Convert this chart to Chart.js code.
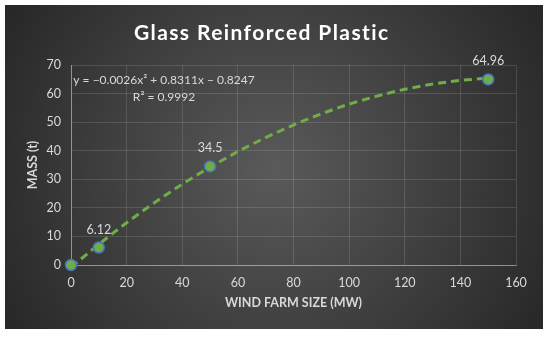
<!DOCTYPE html>
<html><head><meta charset="utf-8">
<script src="https://cdn.jsdelivr.net/npm/chart.js@4/dist/chart.umd.min.js"></script>
<style>html,body{margin:0;padding:0;background:#fff;overflow:hidden}</style>
</head><body>
<canvas id="c" width="550" height="337"></canvas>
<script>
const chartTitle = "Glass Reinforced Plastic";
const xAxisTitle = "WIND FARM SIZE (MW)";
const yAxisTitle = "MASS (t)";
const windFarmSize = [0, 10, 50, 150];
const mass = [0, 6.12, 34.5, 64.96];
const pointLabels = ["", "6.12", "34.5", "64.96"];
const trendX = [0, 10, 20, 30, 40, 50, 60, 70, 80, 90, 100, 110, 120, 130, 140, 150];
const trendY = [-0.8, 7.2, 14.8, 21.8, 28.3, 34.2, 39.7, 44.6, 49.0, 52.9, 56.3, 59.1, 61.5, 63.3, 64.6, 65.4];
const equationLines = ["y = \u22120.0026x\u00b2 + 0.8311x \u2212 0.8247", "R\u00b2 = 0.9992"];
const xRange = [0, 160, 20];
const yRange = [0, 70, 10];

const FONT = "Lato";
const TXT = "#d9d9d9";

const bgPlugin = {
  id: "bg",
  beforeDraw(chart) {
    const ctx = chart.ctx;
    ctx.save();
    ctx.fillStyle = "#ffffff";
    ctx.fillRect(0, 0, 550, 337);
    const g = ctx.createRadialGradient(275, 170, 0, 275, 170, 320);
    g.addColorStop(0, "#5a5a5a");
    g.addColorStop(1, "#262626");
    ctx.fillStyle = g;
    ctx.fillRect(5, 5, 538, 324);
    ctx.restore();
  }
};

const textPlugin = {
  id: "texts",
  afterDraw(chart) {
    const ctx = chart.ctx;
    ctx.save();
    ctx.fillStyle = "#ffffff";
    ctx.font = "bold 21px " + FONT;
    ctx.letterSpacing = "1.4px";
    ctx.textAlign = "center";
    ctx.textBaseline = "alphabetic";
    ctx.fillText(chartTitle, 261.7, 40);
    ctx.letterSpacing = "0px";
    const meta = chart.getDatasetMeta(0);
    ctx.fillStyle = TXT;
    ctx.font = "12.5px " + FONT;
    ctx.textBaseline = "middle";
    meta.data.forEach((el, i) => {
      if (pointLabels[i]) ctx.fillText(pointLabels[i], el.x, el.y - 18);
    });
    ctx.font = "12px " + FONT;
    ctx.fillText(equationLines[0], 164, 80);
    ctx.fillText(equationLines[1], 164, 97);
    ctx.restore();
  }
};

new Chart(document.getElementById("c"), {
  type: "scatter",
  data: {
    datasets: [
      {
        label: "Mass",
        data: windFarmSize.map((x, i) => ({x, y: mass[i]})),
        showLine: false,
        pointRadius: 5.5,
        pointHoverRadius: 5.5,
        pointBackgroundColor: "#70ad47",
        pointBorderColor: "#4472c4",
        pointBorderWidth: 1.5,
        clip: false,
        order: 0
      },
      {
        label: "Trend",
        data: trendX.map((x, i) => ({x, y: trendY[i]})),
        showLine: true,
        borderColor: "#70ad47",
        borderWidth: 3,
        borderDash: [8, 5],
        pointRadius: 0,
        tension: 0.4,
        cubicInterpolationMode: "monotone",
        clip: false,
        order: 1
      }
    ]
  },
  options: {
    responsive: false,
    animation: false,
    devicePixelRatio: 1,
    layout: { padding: { left: 5, top: 65, right: 34, bottom: 0 } },
    plugins: { legend: { display: false }, title: { display: false }, tooltip: { enabled: false } },
    scales: {
      x: {
        type: "linear", min: xRange[0], max: xRange[1],
        afterFit(s) { s.height = 72; },
        ticks: { stepSize: xRange[2], color: TXT, font: { family: FONT, size: 12.5 }, padding: 10 },
        grid: { color: "rgba(255,255,255,0.13)", drawTicks: false, lineWidth: 1 },
        border: { color: "rgba(255,255,255,0.38)", width: 1 },
        title: { display: true, text: xAxisTitle, color: TXT, font: { family: FONT, size: 12.5, weight: "bold" }, padding: { top: 0, bottom: 26.5 } }
      },
      y: {
        type: "linear", min: yRange[0], max: yRange[1],
        afterFit(s) { s.width = 66; },
        ticks: { stepSize: yRange[2], color: TXT, font: { family: FONT, size: 12.5 }, padding: 10 },
        grid: { color: "rgba(255,255,255,0.13)", drawTicks: false, lineWidth: 1 },
        border: { color: "rgba(255,255,255,0.38)", width: 1 },
        title: { display: true, text: yAxisTitle, color: TXT, font: { family: FONT, size: 12.5, weight: "bold" }, padding: { top: 20.5, bottom: 0 } }
      }
    }
  },
  plugins: [bgPlugin, textPlugin]
});
</script>
</body></html>
